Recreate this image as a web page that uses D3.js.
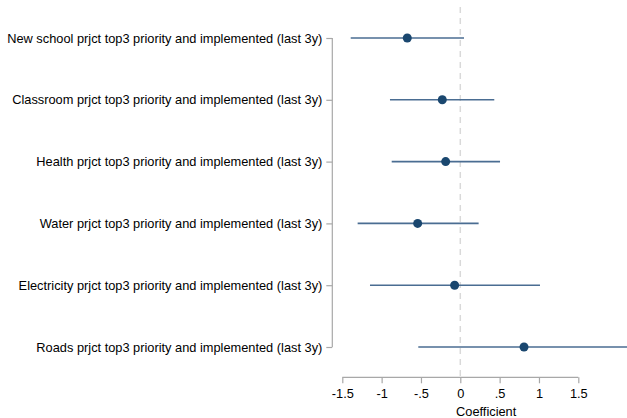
<!DOCTYPE html>
<html>
<head>
<meta charset="utf-8">
<script src="https://cdn.jsdelivr.net/npm/d3@7"></script>
<style>
  html, body { margin: 0; padding: 0; background: #fff; }
  svg { display: block; font-family: "Liberation Sans", Arial, sans-serif; }
</style>
</head>
<body>
<svg id="chart" width="627" height="418"></svg>
<script>
// Coefficient estimates with 95% confidence intervals
const labels = [
  "New school prjct top3 priority and implemented (last 3y)",
  "Classroom prjct top3 priority and implemented (last 3y)",
  "Health prjct top3 priority and implemented (last 3y)",
  "Water prjct top3 priority and implemented (last 3y)",
  "Electricity prjct top3 priority and implemented (last 3y)",
  "Roads prjct top3 priority and implemented (last 3y)"
];
const coef  = [-0.674, -0.229, -0.186, -0.542, -0.072, 0.810];
const ciLow = [-1.393, -0.894, -0.872, -1.305, -1.148, -0.534];
const ciHigh = [0.047, 0.432, 0.505, 0.233, 1.013, 2.150];
const xTicks = [-1.5, -1, -0.5, 0, 0.5, 1, 1.5];
const xTickLabels = ["-1.5", "-1", "-.5", "0", ".5", "1", "1.5"];

const rows = labels.map((l, i) => ({ label: l, b: coef[i], lo: ciLow[i], hi: ciHigh[i] }));

const svg = d3.select("#chart");

const x = d3.scaleLinear().domain([-1.5, 1.5]).range([342.3, 578.3]);
const y = d3.scalePoint().domain(labels).range([38, 347]);

const navy = "#1a476f";
const ciColor = "#4a6d92";
const axisGray = "#a8a8a8";
const fontSize = "12.8px";

// zero reference line
svg.append("line")
  .attr("x1", x(0)).attr("x2", x(0))
  .attr("y1", 7).attr("y2", 377)
  .attr("stroke", "#d9d9d9").attr("stroke-width", 1.5)
  .attr("stroke-dasharray", "6,5");

// y axis
const yAxis = d3.axisLeft(y).tickSize(6).tickPadding(4);
const gy = svg.append("g").attr("transform", "translate(332.3,0)").call(yAxis);
gy.select(".domain").attr("d", `M0,${y(labels[0])}V${y(labels[labels.length - 1])}`)
  .attr("stroke", axisGray).attr("stroke-width", 1.2);
gy.selectAll(".tick line").attr("stroke", axisGray).attr("stroke-width", 1.2);
gy.selectAll(".tick text").attr("fill", "#000").attr("font-size", fontSize)
  .attr("font-family", "Liberation Sans, Arial, sans-serif");

// x axis
const xAxis = d3.axisBottom(x).tickValues(xTicks)
  .tickFormat((d, i) => xTickLabels[i]).tickSize(6).tickPadding(6);
const gx = svg.append("g").attr("transform", "translate(0,377.3)").call(xAxis);
gx.select(".domain").attr("d", `M${x(-1.5)},0H${x(1.5)}`)
  .attr("stroke", axisGray).attr("stroke-width", 1.2);
gx.selectAll(".tick line").attr("stroke", axisGray).attr("stroke-width", 1.2);
gx.selectAll(".tick text").attr("fill", "#000").attr("font-size", fontSize)
  .attr("font-family", "Liberation Sans, Arial, sans-serif");

// axis title, centred over the plot region (which runs past the last tick)
svg.append("text")
  .attr("x", (x(-1.5) + 630) / 2).attr("y", 416)
  .attr("text-anchor", "middle")
  .attr("font-size", fontSize)
  .attr("fill", "#000")
  .text("Coefficient");

// confidence intervals
svg.append("g").selectAll("line")
  .data(rows).join("line")
  .attr("x1", d => x(d.lo)).attr("x2", d => x(d.hi))
  .attr("y1", d => y(d.label)).attr("y2", d => y(d.label))
  .attr("stroke", ciColor).attr("stroke-width", 1.6);

// point estimates
svg.append("g").selectAll("circle")
  .data(rows).join("circle")
  .attr("cx", d => x(d.b)).attr("cy", d => y(d.label))
  .attr("r", 4.5)
  .attr("fill", navy);
</script>
</body>
</html>
